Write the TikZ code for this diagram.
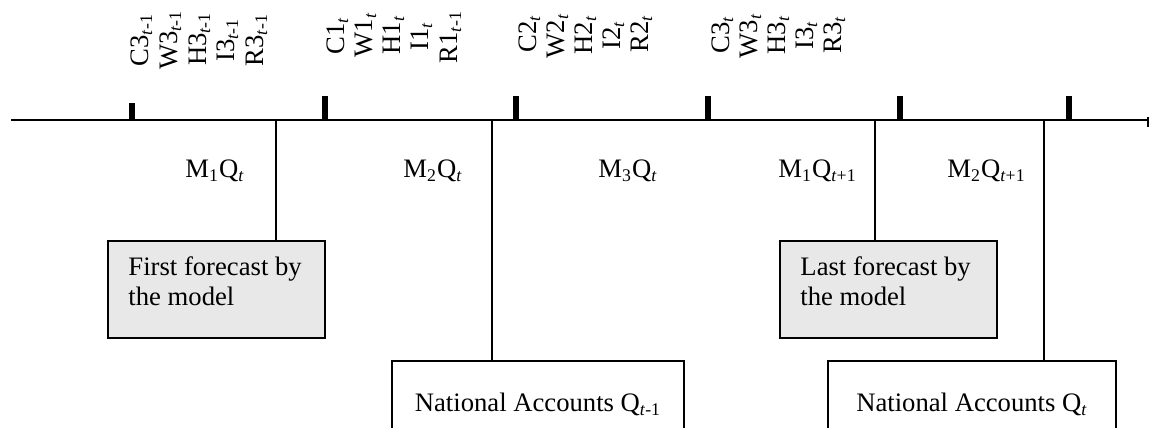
\documentclass[tikz,border=0pt]{standalone}
\usepackage{fontspec}
\setmainfont{Liberation Serif}
\definecolor{boxgray}{RGB}{232,232,232}
\begin{document}
\begin{tikzpicture}[x=0.45pt,y=-0.45pt,
  axisline/.style={line width=0.8pt},
  tickmark/.style={line width=2.4pt},
  conn/.style={line width=0.8pt},
  graybox/.style={draw, line width=0.8pt, fill=boxgray, inner sep=0pt, anchor=north west,
    minimum width=217*0.45pt, minimum height=97*0.45pt},
  whitebox/.style={draw, line width=0.8pt, fill=white, inner sep=0pt, anchor=north,
    minimum height=88*0.45pt, font=\fontsize{12}{13.5}\selectfont},
  lbl/.style={font=\fontsize{12}{13.5}\selectfont, inner sep=0pt},
  vlbl/.style={lbl, rotate=90, anchor=base},
  mlbl/.style={lbl, anchor=base west},
]
\useasboundingbox (0,0) rectangle (1149,427);
\clip (0,0) rectangle (1149,427);

% axis
\coordinate (a0) at (11,120);
\coordinate (a1) at (1148,120);
\draw[axisline] (a0) -- (a1);
\draw[axisline] (a1) ++(0,-3) -- ++(0,10);

% ticks
\coordinate (t1) at (132,120);
\coordinate (t2) at (325,120);
\coordinate (t3) at (516,120);
\coordinate (t4) at (708,120);
\coordinate (t5) at (900,120);
\coordinate (t6) at (1069,120);
\draw[tickmark] (t1) -- ++(0,-17);
\foreach \t in {t2,t3,t4,t5,t6} \draw[tickmark] (\t) -- ++(0,-24);

% rotated labels
\node[vlbl] (g1a) at (148,40) {C3\textsubscript{\textit{t}-1}};
\node[vlbl] (g1b) at (177,40) {W3\textsubscript{\textit{t}-1}};
\node[vlbl] (g1c) at (206,39) {H3\textsubscript{\textit{t}-1}};
\node[vlbl] (g1d) at (234,40) {I3\textsubscript{\textit{t}-1}};
\node[vlbl] (g1e) at (263,40) {R3\textsubscript{\textit{t}-1}};

\node[vlbl] (g2a) at (344,36) {C1\textsubscript{\textit{t}}};
\node[vlbl] (g2b) at (372,35) {W1\textsubscript{\textit{t}}};
\node[vlbl] (g2c) at (400,35) {H1\textsubscript{\textit{t}}};
\node[vlbl] (g2d) at (428,36) {I1\textsubscript{\textit{t}}};
\node[vlbl] (g2e) at (457,37) {R1\textsubscript{\textit{t}-1}};

\node[vlbl] (g3a) at (536,34) {C2\textsubscript{\textit{t}}};
\node[vlbl] (g3b) at (564,36) {W2\textsubscript{\textit{t}}};
\node[vlbl] (g3c) at (592,35) {H2\textsubscript{\textit{t}}};
\node[vlbl] (g3d) at (620,35) {I2\textsubscript{\textit{t}}};
\node[vlbl] (g3e) at (648,34) {R2\textsubscript{\textit{t}}};

\node[vlbl] (g4a) at (729,35) {C3\textsubscript{\textit{t}}};
\node[vlbl] (g4b) at (757,36) {W3\textsubscript{\textit{t}}};
\node[vlbl] (g4c) at (785,35) {H3\textsubscript{\textit{t}}};
\node[vlbl] (g4d) at (813,35) {I3\textsubscript{\textit{t}}};
\node[vlbl] (g4e) at (841,35) {R3\textsubscript{\textit{t}}};

% month labels
\node[mlbl] (m1) at (185,177) {M\textsubscript{1}Q\textsubscript{\textit{t}}};
\node[mlbl] (m2) at (403,177) {M\textsubscript{2}Q\textsubscript{\textit{t}}};
\node[mlbl] (m3) at (598,177) {M\textsubscript{3}Q\textsubscript{\textit{t}}};
\node[mlbl] (m4) at (778,177) {M\textsubscript{1}Q\textsubscript{\textit{t}+1}};
\node[mlbl] (m5) at (947,177) {M\textsubscript{2}Q\textsubscript{\textit{t}+1}};

% boxes
\node[graybox] (fc1) at (107,240) {};
\node[lbl, anchor=north west, align=left] (fc1t) at (128,256) {First forecast by\\the model};
\node[graybox] (fc2) at (779,240) {};
\node[lbl, anchor=north west, align=left] (fc2t) at (800,256) {Last forecast by\\the model};

\node[whitebox, minimum width=292*0.45pt] (na1) at (538,360) {National Accounts Q\textsubscript{\textit{t}-1}};
\node[whitebox, minimum width=288*0.45pt] (na2) at (972,360) {National Accounts Q\textsubscript{\textit{t}}};

% connectors
\coordinate (v1) at (276,120);
\coordinate (v2) at (492,120);
\coordinate (v3) at (875,120);
\coordinate (v4) at (1044,120);
\draw[conn] (v1) -- (v1 |- fc1.north);
\draw[conn] (v2) -- (v2 |- na1.north);
\draw[conn] (v3) -- (v3 |- fc2.north);
\draw[conn] (v4) -- (v4 |- na2.north);
\end{tikzpicture}
\end{document}
